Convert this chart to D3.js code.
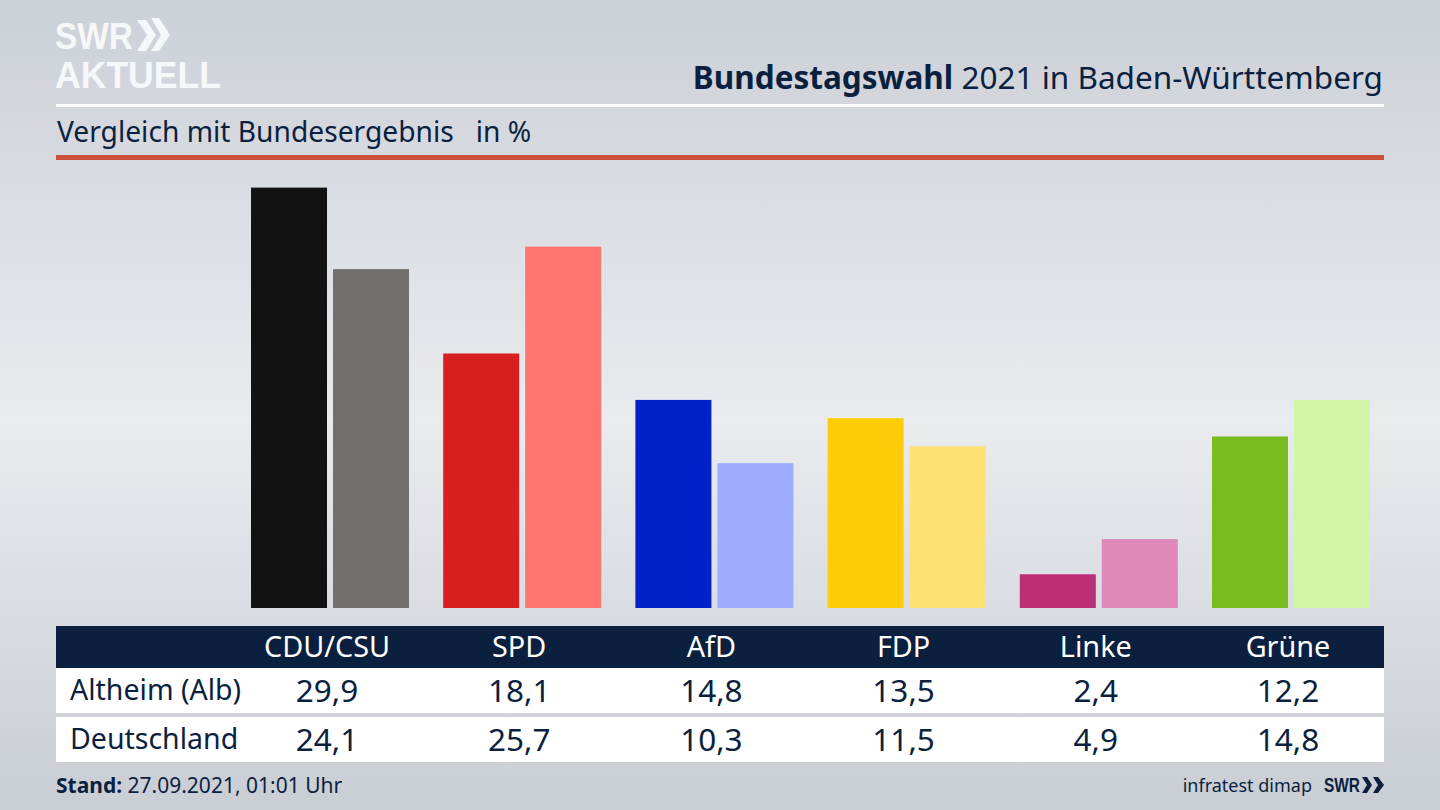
<!DOCTYPE html>
<html lang="de">
<head>
<meta charset="UTF-8">
<title>Bundestagswahl 2021 in Baden-Württemberg</title>
<style>
html, body { margin: 0; padding: 0; background: #d5d8de; }
svg { display: block; }
text { font-family: "Noto Sans", sans-serif; }
</style>
</head>
<body>
<script src="https://cdn.jsdelivr.net/npm/d3@7"></script>
<script>
var parties = ['CDU/CSU', 'SPD', 'AfD', 'FDP', 'Linke', 'Grüne'];
var altheim = [29.9, 18.1, 14.8, 13.5, 2.4, 12.2];
var deutschland = [24.1, 25.7, 10.3, 11.5, 4.9, 14.8];
var colorsAltheim = ['#121212', '#d81f1f', '#0022c8', '#ffcc0a', '#bb2e78', '#78bc1e'];
var colorsDeutschland = ['#72706d', '#ff746e', '#9dacff', '#ffe072', '#e088b8', '#d2f6a8'];
var rowNames = ['Altheim (Alb)', 'Deutschland'];

var navy = '#0b1f3f';
var width = 1440, height = 810;
var fmt = function(v) { return d3.format('.1f')(v).replace('.', ','); };

var svg = d3.select('body').append('svg')
    .attr('width', width)
    .attr('height', height);

// background
var grad = svg.append('defs').append('linearGradient')
    .attr('id', 'bg')
    .attr('x1', 0).attr('y1', 0).attr('x2', 0).attr('y2', 1);
grad.append('stop').attr('offset', '0%').attr('stop-color', '#ccd0d7');
grad.append('stop').attr('offset', '52%').attr('stop-color', '#e9ebee');
grad.append('stop').attr('offset', '100%').attr('stop-color', '#c9cdd4');
svg.append('rect').attr('width', width).attr('height', height).attr('fill', 'url(#bg)');

// scales
var x = d3.scalePoint().domain(parties).range([327, 1288]);
var y = d3.scaleLinear().domain([0, 29.9]).range([608, 187.6]);
var barW = 76;

// logo
svg.append('text').attr('x', 55).attr('y', 48.5)
    .style('font-family', '"Liberation Sans"').style('font-weight', 700).style('font-size', '36px')
    .attr('textLength', 78).attr('lengthAdjust', 'spacingAndGlyphs')
    .attr('fill', '#f6f7f8').text('SWR');
svg.append('text').attr('x', 55).attr('y', 88)
    .style('font-family', '"Liberation Sans"').style('font-weight', 700).style('font-size', '36px')
    .attr('textLength', 166).attr('lengthAdjust', 'spacingAndGlyphs')
    .attr('fill', '#f6f7f8').text('AKTUELL');
svg.append('path').attr('fill', '#f6f7f8')
    .attr('d', 'M137 20h9l10 15-10 16h-9l10-16zM151 18h8l11 17-11 16h-8l10-16z');

// header
var title = svg.append('text').attr('x', 1383).attr('y', 89)
    .attr('text-anchor', 'end').attr('fill', navy).style('font-size', '31.5px');
title.append('tspan').style('font-weight', 700).text('Bundestagswahl');
title.append('tspan').text(' 2021 in Baden-Württemberg');

svg.append('rect').attr('x', 56).attr('y', 104).attr('width', 1328).attr('height', 3).attr('fill', '#fff');
svg.append('text').attr('x', 57).attr('y', 142).attr('fill', navy).style('font-size', '28.2px')
    .style('white-space', 'pre').text('Vergleich mit Bundesergebnis   in %');
svg.append('rect').attr('x', 56).attr('y', 155).attr('width', 1328).attr('height', 5).attr('fill', '#c9503c');

// bars
svg.selectAll('.bar1').data(parties).enter().append('rect')
    .attr('class', 'bar1')
    .attr('x', function(d) { return x(d) - barW; })
    .attr('y', function(d, i) { return y(altheim[i]); })
    .attr('width', barW)
    .attr('height', function(d, i) { return y(0) - y(altheim[i]); })
    .attr('fill', function(d, i) { return colorsAltheim[i]; });

svg.selectAll('.bar2').data(parties).enter().append('rect')
    .attr('class', 'bar2')
    .attr('x', function(d) { return x(d) + 6; })
    .attr('y', function(d, i) { return y(deutschland[i]); })
    .attr('width', barW)
    .attr('height', function(d, i) { return y(0) - y(deutschland[i]); })
    .attr('fill', function(d, i) { return colorsDeutschland[i]; });

// table
svg.append('rect').attr('x', 56).attr('y', 626).attr('width', 1328).attr('height', 42).attr('fill', navy);
svg.append('rect').attr('x', 56).attr('y', 668).attr('width', 1328).attr('height', 45).attr('fill', '#fff');
svg.append('rect').attr('x', 56).attr('y', 717).attr('width', 1328).attr('height', 45).attr('fill', '#fff');

svg.selectAll('.head').data(parties).enter().append('text')
    .attr('class', 'head')
    .attr('x', function(d) { return x(d); })
    .attr('y', 657)
    .attr('text-anchor', 'middle')
    .attr('fill', '#fff')
    .style('font-size', '28.8px')
    .text(function(d) { return d; });

[altheim, deutschland].forEach(function(row, r) {
    var base = [701, 750][r];
    svg.append('text').attr('x', 70).attr('y', base - 1).attr('fill', navy)
        .style('font-size', '28.5px').text(rowNames[r]);
    svg.selectAll('.val' + r).data(row).enter().append('text')
        .attr('class', 'val' + r)
        .attr('x', function(d, i) { return x(parties[i]); })
        .attr('y', base + 1)
        .attr('text-anchor', 'middle')
        .attr('fill', navy)
        .style('font-size', '31.5px')
        .text(fmt);
});

// footer
var stand = svg.append('text').attr('x', 56).attr('y', 793).attr('fill', navy).style('font-size', '21px');
stand.append('tspan').style('font-weight', 700).text('Stand:');
stand.append('tspan').text(' 27.09.2021, 01:01 Uhr');

svg.append('text').attr('x', 1312).attr('y', 792).attr('text-anchor', 'end')
    .attr('fill', navy).style('font-size', '18px').text('infratest dimap');
svg.append('text').attr('x', 1324).attr('y', 792)
    .style('font-family', '"Liberation Sans"').style('font-weight', 700)
    .style('font-size', '21px').attr('textLength', 36).attr('lengthAdjust', 'spacingAndGlyphs')
    .attr('fill', navy).text('SWR');
svg.append('path').attr('fill', navy)
    .attr('d', 'M1362 777h5l5 8-5 8h-5l5-8zM1373 777h5l6 8-6 8h-5l5-8z');
</script>
</body>
</html>
